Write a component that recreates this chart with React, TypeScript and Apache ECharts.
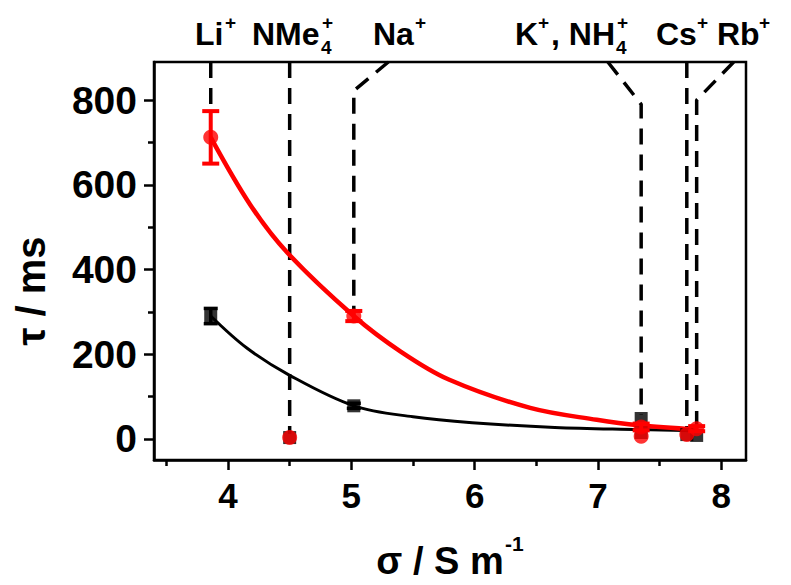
import React, { useEffect, useRef } from 'react';
import * as echarts from 'echarts';

// ---- data ----
const ionNames = ['Li+', 'NMe4+', 'Na+', 'K+', 'NH4+', 'Cs+', 'Rb+'];
const conductivity = [3.86, 4.5, 5.02, 7.35, 7.35, 7.72, 7.8];
const tauBlack = [290, 3, 78, 48, 15, 10, 8];
const tauBlackErr = [18, 0, 6, 0, 0, 0, 0];
const tauRed = [712, 3, 290, 28, 6, 10, 24];
const tauRedErr = [62, 0, 12, 8, 0, 0, 6];

const redFitX = [3.86, 4.18, 4.48, 5.02, 5.4, 5.79, 6.45, 6.99, 7.33, 7.8];
const redFitY = [712, 553, 440, 290, 206, 140, 73, 45, 32, 22];
const blackFitX = [3.86, 4.15, 4.5, 5.02, 5.5, 5.98, 6.65, 7.33, 7.8];
const blackFitY = [290, 215, 150, 78, 52, 38, 27, 22, 19];

// dashed leader lines from the ion labels down to the points
const liLeadX = [3.86, 3.86];
const liLeadY = [890, 773];
const nme4LeadX = [4.5, 4.5];
const nme4LeadY = [890, 12];
const naLeadX = [5.3, 5.02, 5.02];
const naLeadY = [890, 822, 300];
const kLeadX = [7.08, 7.35, 7.35];
const kLeadY = [890, 790, 56];
const csLeadX = [7.72, 7.72];
const csLeadY = [890, 16];
const rbLeadX = [8.1, 7.8, 7.8];
const rbLeadY = [890, 800, 30];

const xMajorTicks = [4, 5, 6, 7, 8];
const xMinorTicks = [3.5, 4.5, 5.5, 6.5, 7.5];
const yMajorTicks = [0, 200, 400, 600, 800];
const yMinorTicks = [100, 300, 500, 700];

const FONT = '"Liberation Sans", Arial, Helvetica, sans-serif';

function pairs(xs: number[], ys: number[]) {
  return xs.map((x, i) => [x, ys[i]]);
}

function leadSeries(xs: number[], ys: number[]) {
  return {
    type: 'line',
    data: pairs(xs, ys),
    symbol: 'none',
    z: 1,
    lineStyle: { color: '#000', width: 3.5, type: [16, 10] },
    silent: true,
  };
}

function errorBars(ys: number[], errs: number[], color: string, capW: number, lw: number, z: number) {
  const data = conductivity
    .map((x, i) => [x, ys[i] - errs[i], ys[i] + errs[i]])
    .filter((_, i) => errs[i] > 0);
  return {
    type: 'custom',
    data,
    z,
    encode: { x: 0, y: [1, 2] },
    renderItem: (_params: any, api: any) => {
      const x = api.value(0);
      const p1 = api.coord([x, api.value(1)]);
      const p2 = api.coord([x, api.value(2)]);
      const h = capW / 2;
      const st = { stroke: color, lineWidth: lw };
      return {
        type: 'group',
        children: [
          { type: 'line', shape: { x1: p1[0], y1: p1[1], x2: p2[0], y2: p2[1] }, style: st },
          { type: 'line', shape: { x1: p1[0] - h, y1: p1[1], x2: p1[0] + h, y2: p1[1] }, style: st },
          { type: 'line', shape: { x1: p2[0] - h, y1: p2[1], x2: p2[0] + h, y2: p2[1] }, style: st },
        ],
      };
    },
  };
}

function txt(text: string, x: number, y: number, size: number, weight = 'normal', extra: any = {}) {
  return {
    type: 'text',
    x,
    y,
    z: 10,
    ...extra,
    style: {
      text,
      font: `${weight} ${size}px ${FONT}`,
      fill: '#000',
      align: extra.align || 'left',
      verticalAlign: 'middle',
    },
  };
}

export default function App() {
  const ref = useRef<HTMLDivElement>(null);
  useEffect(() => {
    if (!ref.current) return;
    const chart = echarts.init(ref.current, null, { renderer: 'svg' });
    const LBL = 32;
    const SUP = 19;
    const W = 'bold';
    const base = 34;
    const supY = 22;
    const subY = 47;
    const graphic: any[] = [
      // ion labels
      txt('Li', 195, base, LBL, W), txt('+', 225, supY, SUP, W),
      txt('NMe', 252, base, LBL, W), txt('4', 321, subY, SUP, W), txt('+', 322, supY, SUP, W),
      txt('Na', 373, base, LBL, W), txt('+', 415, supY, SUP, W),
      txt('K', 515, base, LBL, W), txt('+', 538, supY, SUP, W),
      txt(', NH', 551, base, LBL, W), txt('4', 616, subY, SUP, W), txt('+', 617, supY, SUP, W),
      txt('Cs', 656, base, LBL, W), txt('+', 697, supY, SUP, W),
      txt('Rb', 717, base, LBL, W), txt('+', 759, supY, SUP, W),
      // axis titles
      txt('τ / ms', 31, 291, 40, 'bold', { rotation: Math.PI / 2, align: 'center' }),
      txt('σ / S m', 440, 561, 38, 'bold', { align: 'center' }),
      txt('-1', 505, 543, 21, 'bold'),
    ];

    const option: any = {
      animation: false,
      backgroundColor: '#fff',
      grid: {
        left: 154,
        top: 62,
        right: 45,
        bottom: 125,
        show: true,
        borderColor: '#000',
        borderWidth: 2.5,
        containLabel: false,
      },
      xAxis: [
        {
          type: 'value',
          position: 'bottom',
          min: 3.4,
          max: 8.2,
          splitLine: { show: false },
          axisLine: { show: true, onZero: false, lineStyle: { color: '#000', width: 2.5 } },
          axisTick: { show: true, inside: false, length: 10, customValues: xMajorTicks, lineStyle: { color: '#000', width: 2.5 } },
          axisLabel: {
            customValues: xMajorTicks,
            margin: 18,
            color: '#000',
            fontSize: 35,
            fontWeight: 'bold',
            fontFamily: FONT,
          },
        },
        {
          type: 'value',
          position: 'bottom',
          min: 3.4,
          max: 8.2,
          splitLine: { show: false },
          axisLine: { show: false, onZero: false },
          axisTick: { show: true, inside: false, length: 6, customValues: xMinorTicks, lineStyle: { color: '#000', width: 2.5 } },
          axisLabel: { show: false },
        },
      ],
      yAxis: [
        {
          type: 'value',
          position: 'left',
          min: -50,
          max: 890,
          splitLine: { show: false },
          axisLine: { show: true, onZero: false, lineStyle: { color: '#000', width: 2.5 } },
          axisTick: { show: true, inside: false, length: 10, customValues: yMajorTicks, lineStyle: { color: '#000', width: 2.5 } },
          axisLabel: {
            customValues: yMajorTicks,
            margin: 17,
            color: '#000',
            fontSize: 39,
            fontWeight: 'bold',
            fontFamily: FONT,
          },
        },
        {
          type: 'value',
          position: 'left',
          min: -50,
          max: 890,
          splitLine: { show: false },
          axisLine: { show: false, onZero: false },
          axisTick: { show: true, inside: false, length: 6, customValues: yMinorTicks, lineStyle: { color: '#000', width: 2.5 } },
          axisLabel: { show: false },
        },
      ],
      graphic,
      series: [
        leadSeries(liLeadX, liLeadY),
        leadSeries(nme4LeadX, nme4LeadY),
        leadSeries(naLeadX, naLeadY),
        leadSeries(kLeadX, kLeadY),
        leadSeries(csLeadX, csLeadY),
        leadSeries(rbLeadX, rbLeadY),
        {
          type: 'line',
          name: 'black fit',
          data: pairs(blackFitX, blackFitY),
          smooth: 0.35,
          symbol: 'none',
          z: 2,
          lineStyle: { color: '#000', width: 3 },
        },
        {
          type: 'line',
          name: 'red fit',
          data: pairs(redFitX, redFitY),
          smooth: 0.35,
          symbol: 'none',
          z: 3,
          lineStyle: { color: '#ff0000', width: 4.5 },
        },
        errorBars(tauBlack, tauBlackErr, '#000', 14, 3.5, 4),
        {
          type: 'scatter',
          name: 'black',
          data: pairs(conductivity, tauBlack),
          symbol: 'rect',
          symbolSize: 13,
          z: 5,
          itemStyle: { color: '#000' },
        },
        errorBars(tauRed, tauRedErr, '#ff0000', 17, 4, 6),
        {
          type: 'scatter',
          name: 'red',
          data: pairs(conductivity, tauRed),
          symbol: 'circle',
          symbolSize: 15,
          z: 7,
          itemStyle: { color: '#ff0000' },
        },
      ],
    };
    chart.setOption(option);
    return () => chart.dispose();
  }, []);
  return (
    <div
      ref={ref}
      style={{ position: 'fixed', left: 0, top: 0, width: 791, height: 585, background: '#fff' }}
    />
  );
}
